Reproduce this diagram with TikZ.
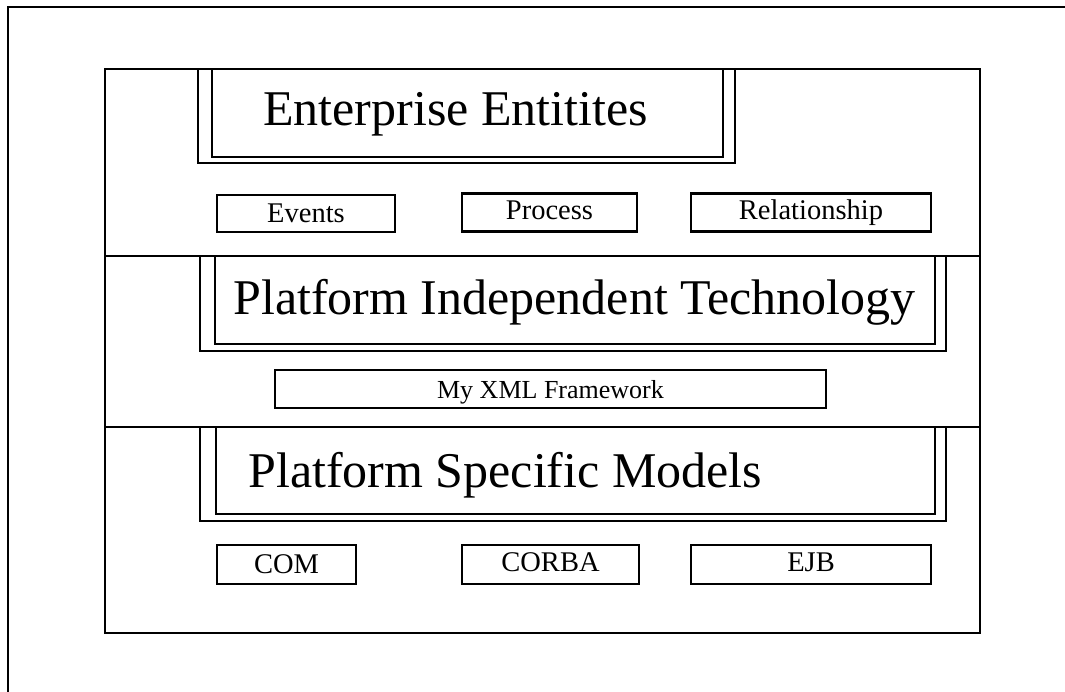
\documentclass[tikz,border=0pt]{standalone}
\usepackage{fontspec}
\setmainfont{Liberation Serif}
\begin{document}
\begin{tikzpicture}[x=1pt,y=-1pt,
  line width=2.6pt,
  frm/.style={draw, line width=2.6pt, inner sep=0pt, outer sep=0pt},
  small/.style={frm, font=\fontsize{28.5}{32}\selectfont, text height=20pt, text depth=6pt},
  title/.style={inner sep=0pt, anchor=base west, font=\fontsize{50}{56}\selectfont}]
\useasboundingbox (0,0) rectangle (1065,692);
% outer page frame (top and left)
\coordinate (pgbl) at (8,692);
\coordinate (pgtl) at (8,7);
\coordinate (pgtr) at (1065,7);
\draw (pgbl) -- (pgtl) -- (pgtr);
% main frame
\node[frm, minimum width=875pt, minimum height=564pt] (frame) at (542.5,351) {};
\coordinate (l1w) at (105,256); \coordinate (l1e) at (980,256);
\coordinate (l2w) at (105,427); \coordinate (l2e) at (980,427);
\draw (l1w) -- (l1e);
\draw (l2w) -- (l2e);
% Enterprise Entities
\node[frm, minimum width=537pt, minimum height=94pt] (eeo) at (466.5,116) {};
\node[frm, minimum width=511pt, minimum height=88pt] (eei) at (467.5,113) {};
\node[title] (eet) at (262,126) {Enterprise Entitites};
\node[small, minimum width=178pt, minimum height=37pt, text height=22pt, text depth=4pt] (events) at (306,213.5) {Events};
\node[small, minimum width=175pt, minimum height=38pt] (process) at (549.5,212.5) {Process};
\node[small, minimum width=240pt, minimum height=38pt] (rel) at (811,212.5) {Relationship};
% Platform Independent Technology
\node[frm, minimum width=746pt, minimum height=95pt] (pio) at (573,303.5) {};
\node[frm, minimum width=720pt, minimum height=88pt] (pii) at (575,300) {};
\node[title] (pit) at (232,315) {Platform Independent Technology};
\node[small, font=\fontsize{26}{30}\selectfont, minimum width=551pt, minimum height=38pt, text height=22pt, text depth=4pt] (xml) at (550.5,389) {My XML Framework};
% Platform Specific Models
\node[frm, minimum width=746pt, minimum height=94pt] (pso) at (573,474) {};
\node[frm, minimum width=719pt, minimum height=87pt] (psi) at (575.5,470.5) {};
\node[title] (psm) at (247,487) {Platform Specific Models};
\node[small, minimum width=139pt, minimum height=39pt, text height=22pt, text depth=4pt] (com) at (286.5,564.5) {COM};
\node[small, minimum width=177pt, minimum height=39pt] (corba) at (550.5,564.5) {CORBA};
\node[small, minimum width=240pt, minimum height=39pt] (ejb) at (811,564.5) {EJB};
\end{tikzpicture}
\end{document}
